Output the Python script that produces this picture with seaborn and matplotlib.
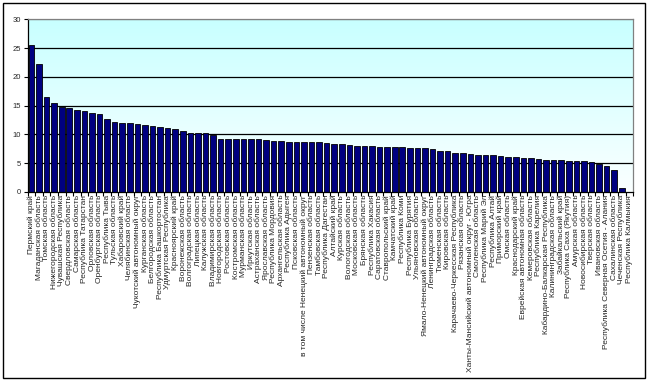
import numpy as np
import pandas as pd
import seaborn as sns
import matplotlib.pyplot as plt
from matplotlib.patches import Rectangle
from matplotlib.colors import LinearSegmentedColormap

regions = [
    "Пермский край", "Магаданская область", "Томская область", "Нижегородская область",
    "Чувашская Республика", "Свердловская область", "Самарская область", "Республика Татарстан",
    "Орловская область", "Оренбургская область", "Республика Тыва", "Тульская область",
    "Хабаровский край", "Челябинская область", "Чукотский автономный округ", "Курганская область",
    "Белгородская область", "Республика Башкортостан", "Удмуртская Республика", "Красноярский край",
    "Воронежская область", "Волгоградская область", "Липецкая область", "Калужская область",
    "Владимирская область", "Новгородская область", "Ростовская область", "Костромская область",
    "Мурманская область", "Иркутская область", "Астраханская область", "Ярославская область",
    "Республика Мордовия", "Архангельская область", "Республика Адыгея", "Псковская область",
    "в том числе Ненецкий автономный округ", "Пензенская область", "Тамбовская область",
    "Республика Дагестан", "Алтайский край", "Курская область", "Вологодская область",
    "Московская область", "Брянская область", "Республика Хакасия", "Саратовская область",
    "Ставропольский край", "Камчатский край", "Республика Коми", "Республика Бурятия",
    "Ульяновская область", "Ямало-Ненецкий автономный округ", "Ленинградская область",
    "Тюменская область", "Кировская область", "Карачаево-Черкесская Республика",
    "Рязанская область", "Ханты-Мансийский автономный округ - Югра", "Смоленская область",
    "Республика Марий Эл", "Республика Алтай", "Приморский край", "Омская область",
    "Краснодарский край", "Еврейская автономная область", "Кемеровская область",
    "Республика Карелия", "Кабардино-Балкарская Республика", "Калининградская область",
    "Забайкальский край", "Республика Саха (Якутия)", "Амурская область",
    "Новосибирская область", "Тверская область", "Ивановская область",
    "Республика Северная Осетия - Алания", "Сахалинская область", "Чеченская Республика",
    "Республика Калмыкия",
]

values = [
    25.6, 22.2, 16.6, 15.5, 14.8, 14.6, 14.2, 14.0, 13.7, 13.5,
    12.7, 12.2, 12.0, 12.0, 11.8, 11.6, 11.5, 11.3, 11.1, 10.9,
    10.6, 10.3, 10.2, 10.2, 9.9, 9.3, 9.3, 9.2, 9.2, 9.2,
    9.2, 9.0, 8.9, 8.9, 8.7, 8.7, 8.7, 8.7, 8.7, 8.5,
    8.35, 8.35, 8.2, 8.0, 8.0, 8.0, 7.8, 7.8, 7.8, 7.8,
    7.65, 7.65, 7.6, 7.45, 7.1, 7.1, 6.75, 6.75, 6.6, 6.4,
    6.4, 6.4, 6.2, 6.05, 6.05, 5.9, 5.9, 5.7, 5.55, 5.55,
    5.5, 5.35, 5.35, 5.35, 5.15, 4.8, 4.45, 3.9, 0.65, 0.0,
]

y_ticks = [0, 5, 10, 15, 20, 25, 30]

df = pd.DataFrame({"region": regions, "value": values})

sns.set_style("white")
plt.rcParams["font.family"] = ["Liberation Sans", "DejaVu Sans"]

fig = plt.figure(figsize=(6.48, 3.83), dpi=100)
ax = fig.add_axes([0.0427, 0.4987, 0.9343, 0.4504])

n = len(regions)
# light cyan gradient behind the bars, fading to white at the bottom
grad = np.linspace(0, 1, 256).reshape(-1, 1)
cmap = LinearSegmentedColormap.from_list("bg", ["#fbffff", "#c8ffff"])
ax.imshow(grad, extent=[-0.5, n - 0.5, 0, 30], origin="lower", aspect="auto",
          cmap=cmap, zorder=0)

for t in y_ticks[1:-1]:
    ax.axhline(t, color="black", lw=0.9, zorder=1)
ax.axhline(30, color="#808080", lw=0.9, zorder=1)

sns.barplot(data=df, x="region", y="value", color="#000080", edgecolor="black",
            linewidth=0.6, width=0.74, saturation=1, ax=ax, zorder=2)

ax.set_xlim(-0.5, n - 0.5)
ax.set_ylim(0, 30)
ax.set_yticks(y_ticks)
ax.set_yticklabels([str(t) for t in y_ticks], fontsize=5.5)
ax.set_xticks(range(n))
ax.set_xticklabels(regions, rotation=90, fontsize=6.0, va="top", ha="center")
ax.set_xticks(np.arange(-0.5, n, 1), minor=True)
ax.tick_params(axis="x", which="major", length=0, pad=2)
ax.tick_params(axis="x", which="minor", length=3, width=0.8, color="black",
               direction="out", bottom=True)
ax.tick_params(axis="y", length=3, width=0.8, color="black", direction="out",
               left=True, pad=2)
ax.set_xlabel("")
ax.set_ylabel("")

for side in ["left", "bottom"]:
    ax.spines[side].set_color("black")
    ax.spines[side].set_linewidth(0.9)
for side in ["top", "right"]:
    ax.spines[side].set_color("#808080")
    ax.spines[side].set_linewidth(0.9)

fig.patches.append(Rectangle((0.004, 0.012), 0.992, 0.98, transform=fig.transFigure,
                             fill=False, edgecolor="black", linewidth=1.0))

fig.savefig("out.png", dpi=100)
